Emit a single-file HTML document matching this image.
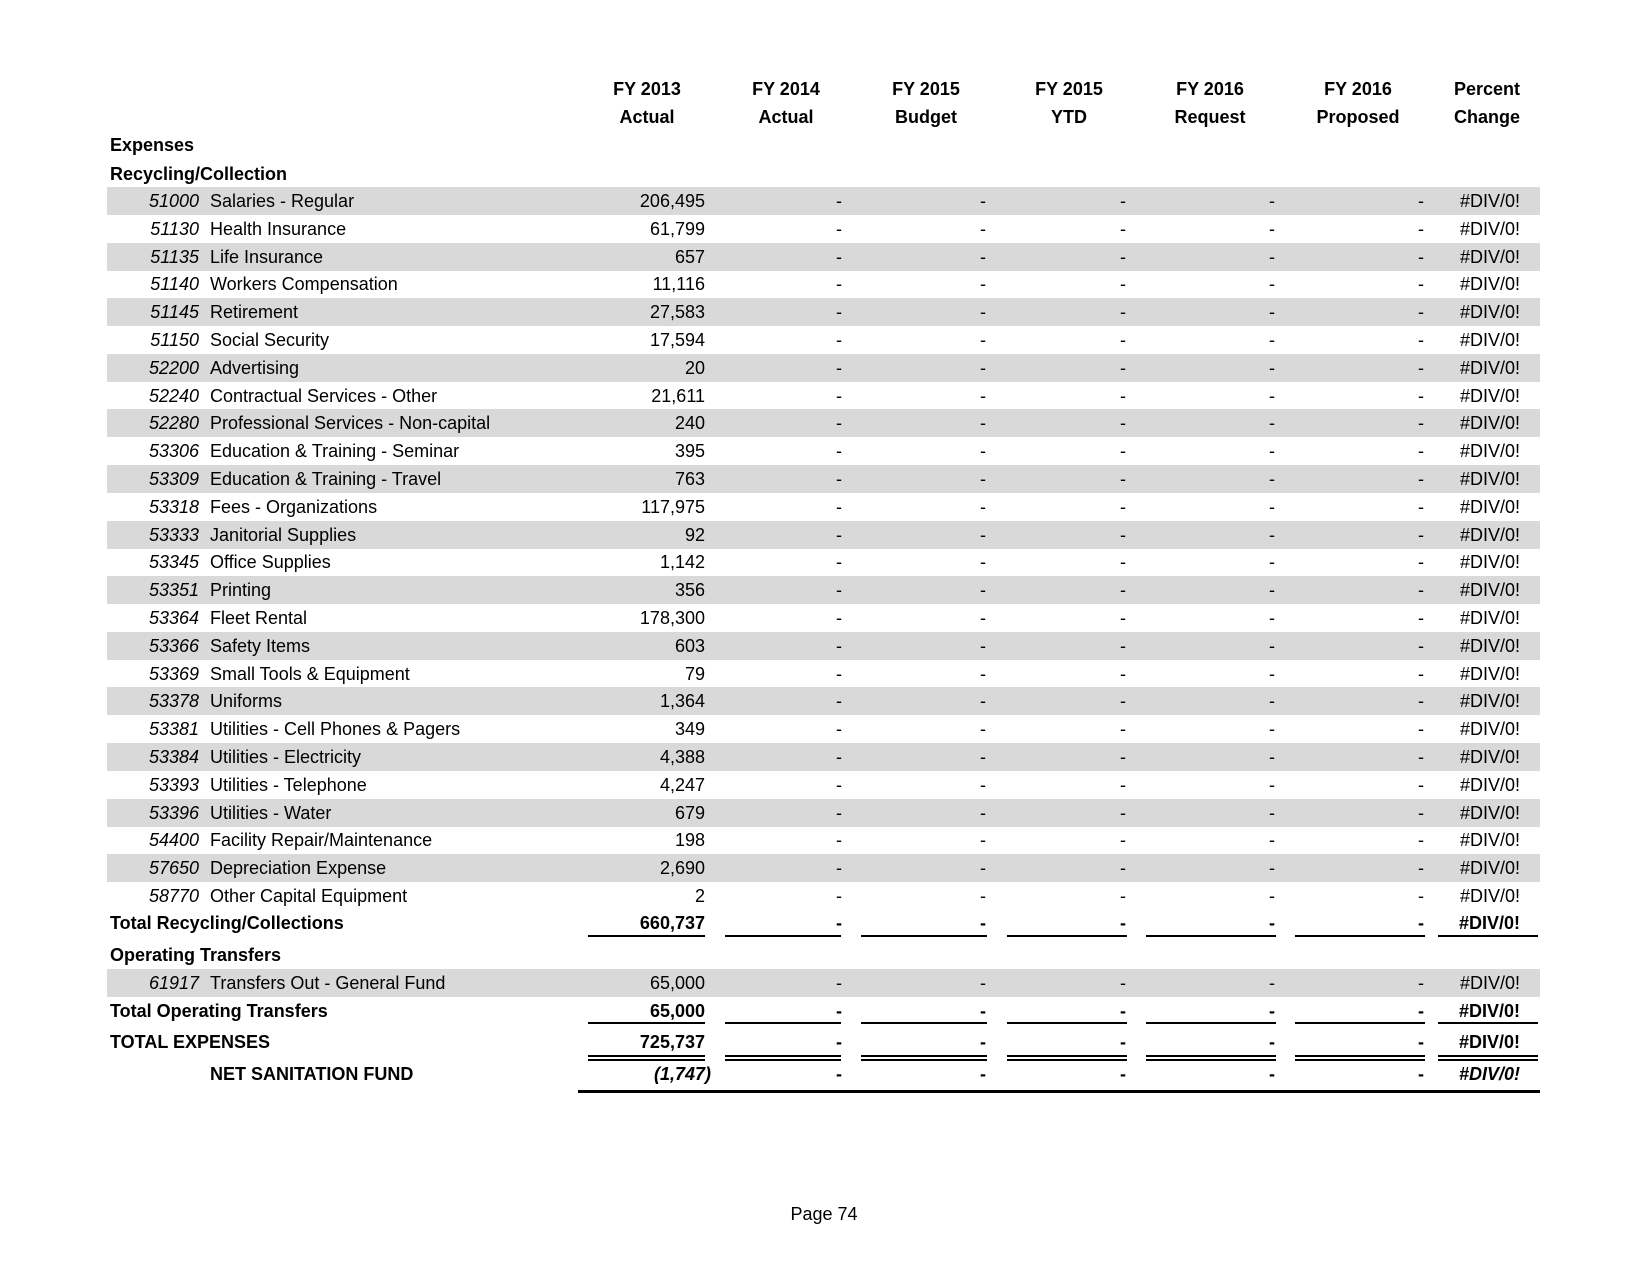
<!DOCTYPE html>
<html><head><meta charset="utf-8"><style>
body{margin:0;width:1650px;height:1275px;background:#fff;position:relative;font-family:"Liberation Sans",sans-serif;font-size:18px;color:#000;overflow:hidden}
.a{position:absolute;white-space:nowrap;line-height:22px}
.b{font-weight:bold}
.band{position:absolute;left:107px;width:1433px;height:28px;background:#d9d9d9}
.r{text-align:right}
.c{text-align:center}
.ln{position:absolute;background:#000}
</style></head><body>
<div id="root"></div>
<script>
var h='';
function t(x,y,s,cls,al){ // x: anchor
  var st='';
  if(al=='r') st='right:'+(1650-x)+'px;';
  else if(al=='c') st='left:'+(x-100)+'px;width:200px;text-align:center;';
  else st='left:'+x+'px;';
  h+='<div class="a '+(cls||'')+'" style="'+st+'top:'+(y-11)+'px">'+s+'</div>';
}
var hx=[647,786,926,1069,1210,1358,1487];
var h1=['FY 2013','FY 2014','FY 2015','FY 2015','FY 2016','FY 2016','Percent'];
var h2=['Actual','Actual','Budget','YTD','Request','Proposed','Change'];
for(var i=0;i<7;i++){t(hx[i],89,h1[i],'b','c');t(hx[i],117,h2[i],'b','c');}
t(110,145,'Expenses','b');t(110,174,'Recycling/Collection','b');
var rows=[['51000','Salaries - Regular','206,495'],['51130','Health Insurance','61,799'],['51135','Life Insurance','657'],['51140','Workers Compensation','11,116'],['51145','Retirement','27,583'],['51150','Social Security','17,594'],['52200','Advertising','20'],['52240','Contractual Services - Other','21,611'],['52280','Professional Services - Non-capital','240'],['53306','Education &amp; Training - Seminar','395'],['53309','Education &amp; Training - Travel','763'],['53318','Fees - Organizations','117,975'],['53333','Janitorial Supplies','92'],['53345','Office Supplies','1,142'],['53351','Printing','356'],['53364','Fleet Rental','178,300'],['53366','Safety Items','603'],['53369','Small Tools &amp; Equipment','79'],['53378','Uniforms','1,364'],['53381','Utilities - Cell Phones &amp; Pagers','349'],['53384','Utilities - Electricity','4,388'],['53393','Utilities - Telephone','4,247'],['53396','Utilities - Water','679'],['54400','Facility Repair/Maintenance','198'],['57650','Depreciation Expense','2,690'],['58770','Other Capital Equipment','2']];
var dx=[842,986,1126,1275,1424];
function datarow(y,code,desc,v,band){
  if(band) h+='<div class="band" style="top:'+(y-14)+'px"></div>';
  h+='<div class="a" style="right:'+(1650-199)+'px;top:'+(y-11)+'px;font-style:italic">'+code+'</div>';
  t(210,y,desc);t(705,y,v,'','r');
  for(var j=0;j<5;j++)t(dx[j],y,'-','','r');
  t(1520,y,'#DIV/0!','','r');
}
for(var i=0;i<rows.length;i++)datarow(201+i*27.8,rows[i][0],rows[i][1],rows[i][2],i%2==0);
var seg=[[588,705],[725,841],[861,987],[1007,1127],[1146,1276],[1295,1425],[1438,1538]];
function tot(y,label,v,lx,it){
  var c='b'+(it?'" style="font-style:italic':'');
  t(lx,y,label,'b');
  h+='<div class="a b r" style="right:'+(1650-(it?711:705))+'px;top:'+(y-11)+'px;'+(it?'font-style:italic':'')+'">'+v+'</div>';
  for(var j=0;j<5;j++)t(dx[j],y,'-','b','r');
  h+='<div class="a b r" style="right:'+(1650-1520)+'px;top:'+(y-11)+'px;'+(it?'font-style:italic':'')+'">#DIV/0!</div>';
}
function lines(y,dbl){for(var j=0;j<7;j++){h+='<div class="ln" style="left:'+seg[j][0]+'px;width:'+(seg[j][1]-seg[j][0])+'px;top:'+y+'px;height:1.5px"></div>';if(dbl)h+='<div class="ln" style="left:'+seg[j][0]+'px;width:'+(seg[j][1]-seg[j][0])+'px;top:'+(y+4)+'px;height:1.5px"></div>';}}
tot(923,'Total Recycling/Collections','660,737',110);lines(935);
t(110,955,'Operating Transfers','b');
datarow(983,'61917','Transfers Out - General Fund','65,000',true);
tot(1011,'Total Operating Transfers','65,000',110);lines(1022);
tot(1042,'TOTAL EXPENSES','725,737',110);lines(1055,true);
tot(1074,'NET SANITATION FUND','(1,747)',210,true);
h+='<div class="ln" style="left:578px;width:962px;top:1090px;height:3px"></div>';
t(824,1214,'Page 74','','c');
document.getElementById('root').innerHTML=h;
</script>
</body></html>
